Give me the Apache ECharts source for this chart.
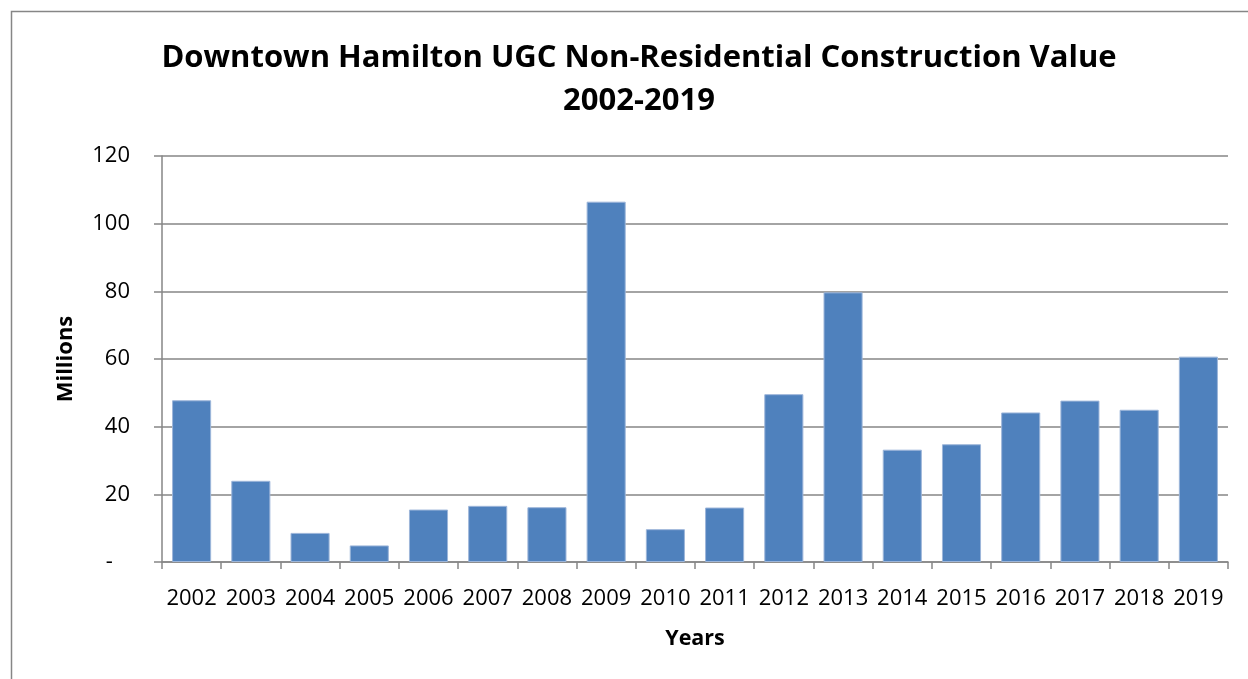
<!DOCTYPE html>
<html>
<head>
<meta charset="utf-8">
<title>Downtown Hamilton UGC Non-Residential Construction Value</title>
<script src="https://cdn.jsdelivr.net/npm/echarts@6/dist/echarts.min.js"></script>
<style>
  html, body { margin: 0; padding: 0; background: #fff; }
  #chart { width: 1248px; height: 679px; }
</style>
</head>
<body>
<div id="chart"></div>
<script>
// values (millions)
const years = ['2002', '2003', '2004', '2005', '2006', '2007', '2008', '2009', '2010',
  '2011', '2012', '2013', '2014', '2015', '2016', '2017', '2018', '2019'];
const constructionValue = [47.8, 24.0, 8.6, 4.9, 15.5, 16.6, 16.2, 106.5, 9.7,
  16.1, 49.6, 79.7, 33.2, 34.8, 44.2, 47.7, 45.0, 60.7];
const yTicks = [0, 20, 40, 60, 80, 100, 120];

const font = 'Open Sans';
const axisGray = '#868686';

const chart = echarts.init(document.getElementById('chart'));

chart.setOption({
  animation: false,
  textStyle: { fontFamily: font },
  title: {
    text: 'Downtown Hamilton UGC Non-Residential Construction Value\n2002-2019',
    left: 634,
    top: 32,
    textAlign: 'center',
    textStyle: {
      fontFamily: font,
      fontSize: 31,
      fontWeight: 'bold',
      color: '#000',
      lineHeight: 43
    }
  },
  graphic: [
    {
      // outer chart border (runs off the right/bottom of the picture)
      type: 'rect',
      shape: { x: 11.5, y: 11.5, width: 1400, height: 800 },
      style: { fill: 'none', stroke: axisGray, lineWidth: 1.5 },
      silent: true
    }
  ],
  grid: {
    left: 162,
    right: 20,
    top: 156,
    bottom: 117
  },
  xAxis: {
    type: 'category',
    data: years,
    name: 'Years',
    nameLocation: 'middle',
    nameGap: 66,
    nameTextStyle: { fontFamily: font, fontSize: 21.5, fontWeight: 'bold', color: '#000' },
    axisLine: { show: true, lineStyle: { color: axisGray, width: 1.5 } },
    axisTick: { show: true, length: 7, lineStyle: { color: axisGray, width: 1.5 } },
    axisLabel: { color: '#000', fontSize: 22, margin: 26, interval: 0 }
  },
  yAxis: {
    type: 'value',
    min: yTicks[0],
    max: yTicks[yTicks.length - 1],
    interval: 20,
    name: 'Millions',
    nameLocation: 'middle',
    nameGap: 85,
    nameRotate: 90,
    nameTextStyle: { fontFamily: font, fontSize: 22, fontWeight: 'bold', color: '#000' },
    axisLine: { show: true, lineStyle: { color: axisGray, width: 1.5 } },
    axisTick: { show: true, length: 8, lineStyle: { color: axisGray, width: 1.5 } },
    axisLabel: {
      color: '#000',
      fontSize: 22,
      margin: 32,
      formatter: function (v) {
        return v === 0 ? '-   ' : String(v);
      }
    },
    splitLine: { show: true, lineStyle: { color: axisGray, width: 1.5 } }
  },
  series: [
    {
      name: 'Construction Value',
      type: 'bar',
      data: constructionValue,
      barCategoryGap: '34%',
      itemStyle: {
        color: '#4F81BD',
        borderColor: '#9db6da',
        borderWidth: 1
      }
    }
  ]
});
</script>
</body>
</html>
